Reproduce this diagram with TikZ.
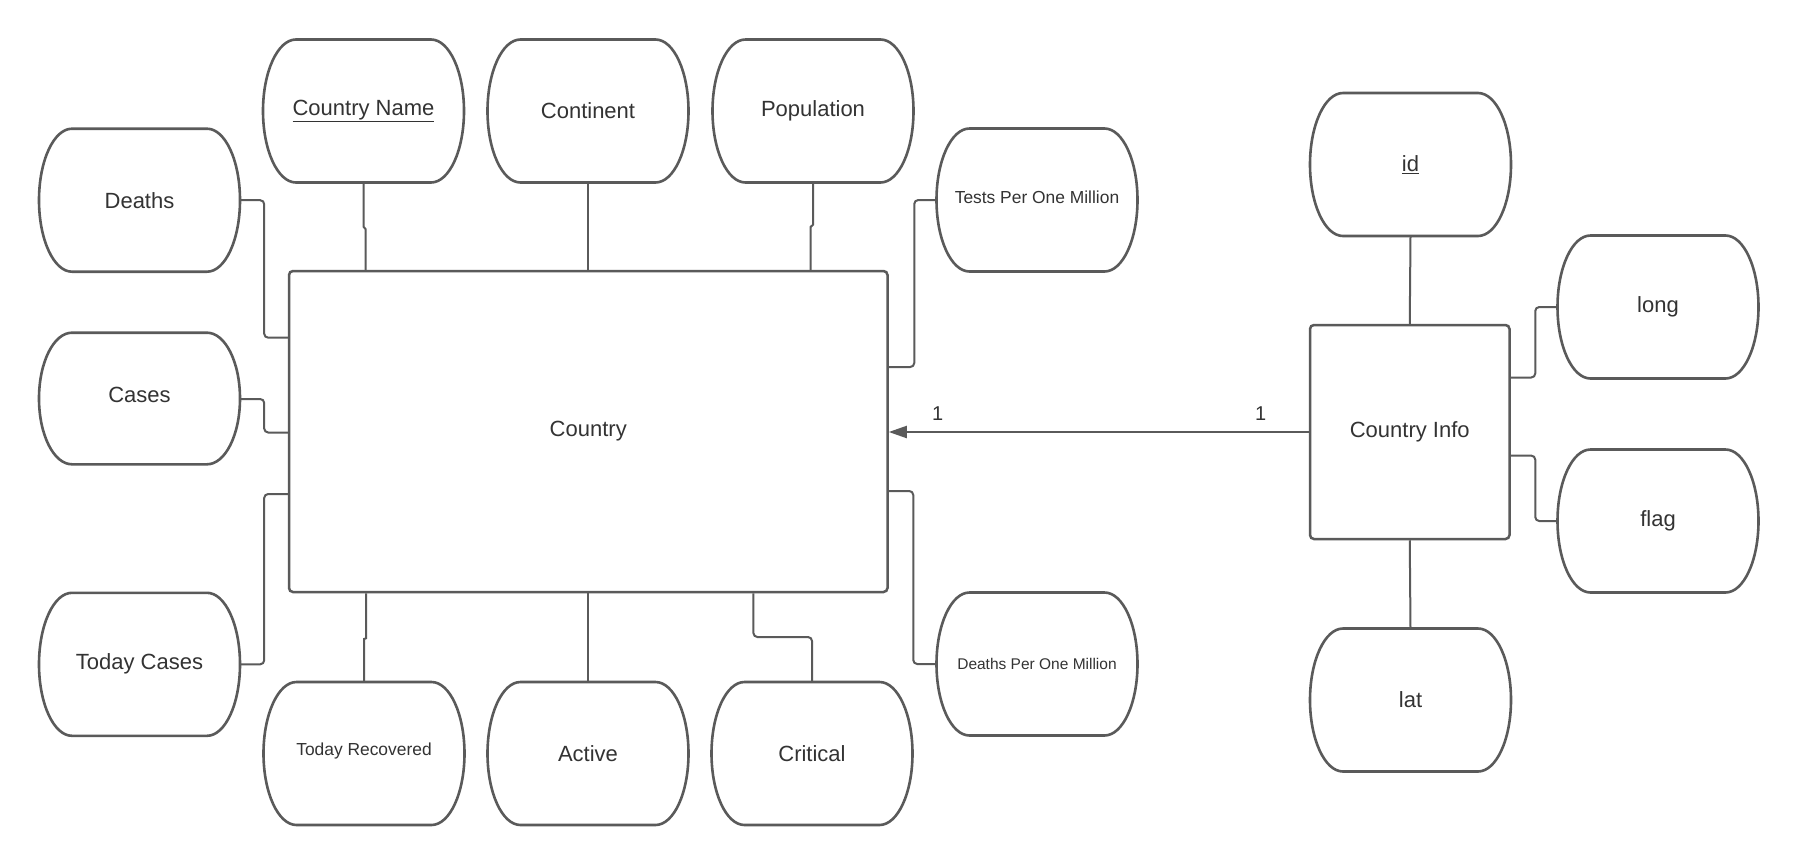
\documentclass[tikz,border=0pt]{standalone}
\usepackage{fontspec}
\setmainfont{Liberation Sans}
\usetikzlibrary{arrows.meta}
\definecolor{lncol}{HTML}{5A5A5A}
\definecolor{txcol}{HTML}{333333}
\newcommand\attrshape[6][0]{%
  \pgfmathsetmacro\attrhh{2*#5}%
  \draw[shp] ({#3-67.5},{#4-#5}) -- ({#3+67.5},{#4-#5})
     arc[start angle=-90, end angle=90, x radius=33, y radius=#5]
     -- ({#3-67.5},{#4+#5})
     arc[start angle=90, end angle=270, x radius=33, y radius=#5]
     -- cycle;
  \node[attr, minimum height=\attrhh pt, yshift=#1pt] (#2) at (#3,#4) {#6};
}
\begin{document}
\begin{tikzpicture}[x=1pt,y=-1pt,
  shp/.style={draw=lncol, line width=2.6pt, line join=round},
  attr/.style={rectangle, draw=none, minimum width=201pt, inner sep=0pt, text=txcol, font=\fontsize{22}{26}\selectfont},
  ent/.style={rectangle, draw=lncol, line width=2.5pt, rounded corners=4pt, inner sep=0pt, text=txcol, font=\fontsize{22}{26}\selectfont},
  conn/.style={draw=lncol, line width=2pt, rounded corners=4pt},
  card/.style={text=txcol, inner sep=0pt, font=\fontsize{20}{24}\selectfont}]
\fill[white] (0,0) rectangle (1800,865);
\useasboundingbox (0,0) rectangle (1800,865);

% entities
\node[ent, minimum width=598.5pt, minimum height=321pt] (country) at (588.25,431.5) {Country};
\node[ent, minimum width=199.5pt, minimum height=214pt] (cinfo) at (1409.75,432) {Country Info};

% attributes
\attrshape{cname}{363.5}{111}{71.5}{\underline{Country Name}}
\attrshape{cont}{588}{111}{71.5}{Continent}
\attrshape{pop}{813}{111}{71.5}{Population}
\attrshape{deaths}{139.5}{200.2}{71.5}{Deaths}
\attrshape[3]{tests}{1037}{200}{71.5}{\fontsize{17.4}{20}\selectfont Tests Per One Million}
\attrshape[4]{cases}{139.5}{398.5}{65.8}{Cases}
\attrshape{tcases}{139.5}{664.3}{71.5}{Today Cases}
\attrshape[3]{trec}{364}{753.5}{71.5}{\fontsize{17.4}{20}\selectfont Today Recovered}
\attrshape{active}{588}{753.5}{71.5}{Active}
\attrshape{crit}{812}{753.5}{71.5}{Critical}
\attrshape{dpom}{1037}{664}{71.5}{\fontsize{15.5}{18}\selectfont Deaths Per One Million}
\attrshape{id}{1410.5}{164.5}{71.5}{\underline{id}}
\attrshape{long}{1658}{307}{71.5}{long}
\attrshape{flag}{1658}{521}{71.5}{flag}
\attrshape{lat}{1410.5}{700}{71.5}{lat}

% connectors
\draw[conn] (deaths.east) -- ++(24,0) |- (country.west |- 0,337.7);
\draw[conn] (cases.east |- 0,399) -- ++(24,0) |- (country.west |- 0,432.5);
\draw[conn] (tcases.east) -- ++(24,0) |- (country.west |- 0,494);
\draw[conn, sharp corners] (cname.south) -- ++(0,44) -- (365.5,229) -- (country.north -| 365.5,0);
\draw[conn] (cont.south) -- (cont.south |- country.north);
\draw[conn, sharp corners] (pop.south) -- ++(0,42) -- (810.6,227) -- (country.north -| 810.6,0);
\draw[conn] (country.east |- 0,367) -- ++(25.5,0) |- (tests.west |- 0,200);
\draw[conn] (country.east |- 0,491) -- ++(24.5,0) |- (dpom.west);
\draw[conn, sharp corners] (country.south -| 366,0) -- ++(0,45) -- (364,639) -- (trec.north |- 0,682);
\draw[conn] (country.south -| active.north) -- (active.north);
\draw[conn] (country.south -| 753.4,0) |- (812,637) -- (crit.north);
\draw[conn] (id.south) -- (cinfo.north);
\draw[conn] (cinfo.south) -- (lat.north);
\draw[conn] (cinfo.east |- 0,377.5) -- ++(24.5,0) |- (long.west);
\draw[conn] (cinfo.east |- 0,455.6) -- ++(24.5,0) |- (flag.west);
\draw[conn, -{Triangle[length=18pt,width=12pt]}] (cinfo.west) -- (country.east |- cinfo.west);

% cardinalities
\node[card] (m1) at (937.7,413.3) {1};
\node[card] (m2) at (1260.7,413.3) {1};
\end{tikzpicture}
\end{document}
